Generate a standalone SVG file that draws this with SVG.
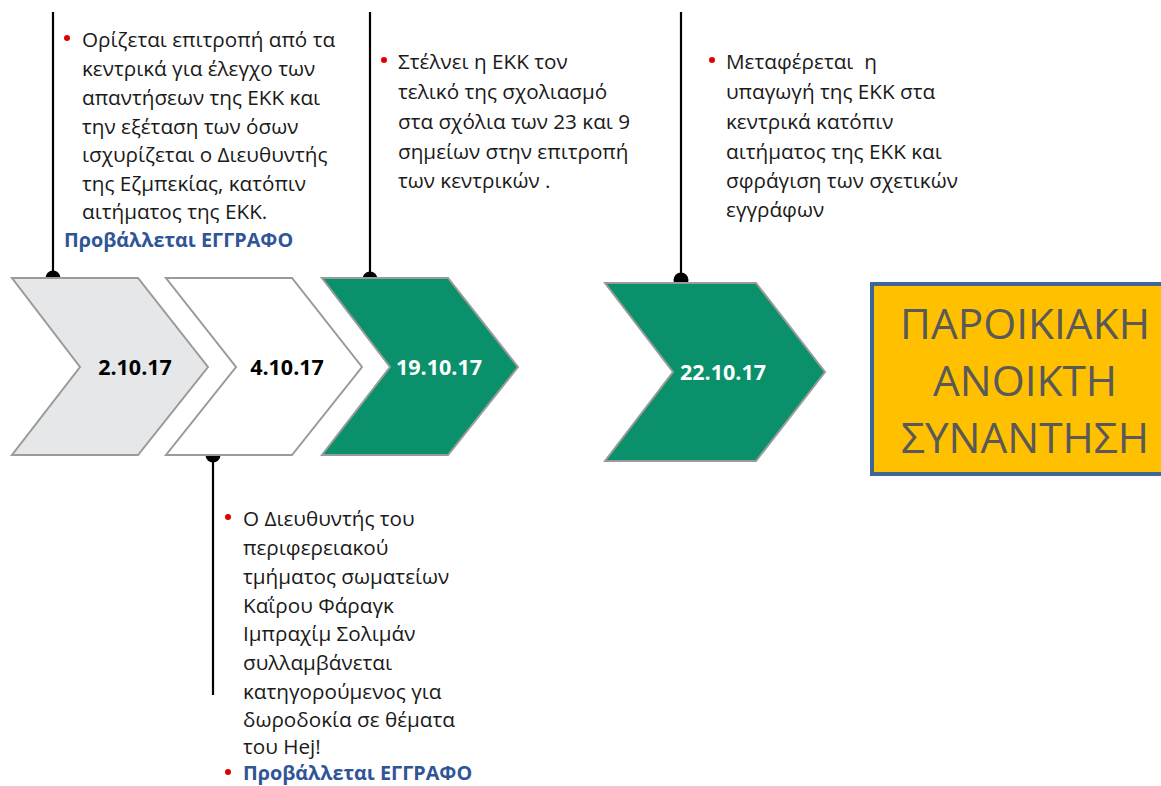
<svg xmlns="http://www.w3.org/2000/svg" width="1161" height="786" viewBox="0 0 1161 786">
<style>
.t{font-family:"Open Sans","Noto Sans",sans-serif;font-size:20.7px;fill:#1a1a1a}
.b{font-family:"Open Sans","Noto Sans",sans-serif;font-size:19.8px;font-weight:bold;fill:#2F5597}
.d{font-family:"Open Sans","Noto Sans",sans-serif;font-size:21.5px;font-weight:bold;text-anchor:middle}
.big{font-family:"Open Sans","Noto Sans",sans-serif;font-size:42.4px;fill:#595959;text-anchor:middle}
.ch{stroke:#9a9a9a;stroke-width:2}
.ln{stroke:#000;stroke-width:2.2}
.bul{fill:#e00000}
</style>
<rect width="1161" height="786" fill="#fff"/>
<g id="connectors">
<line class="ln" x1="53" y1="12" x2="53" y2="278"/>
<circle cx="53" cy="278" r="7.5"/>
<line class="ln" x1="213" y1="455" x2="213" y2="695"/>
<circle cx="213" cy="455" r="7.5"/>
<line class="ln" x1="370" y1="12" x2="370" y2="279"/>
<circle cx="370" cy="279" r="7.5"/>
<line class="ln" x1="681" y1="12" x2="681" y2="280"/>
<circle cx="681" cy="280" r="7.5"/>
</g>
<g id="chev1">
<polygon class="ch" fill="#E6E7E8" points="12,278 138,278 208,367 138,455 12,455 80,367"/>
<text class="d" x="135" y="375" fill="#000">2.10.17</text>
</g>
<g id="chev2">
<polygon class="ch" fill="#fff" points="166,278 292,278 362,367 292,455 166,455 236,367"/>
<text class="d" x="287" y="375" fill="#000">4.10.17</text>
</g>
<g id="chev3">
<polygon class="ch" fill="#0A916B" points="322,278 448,278 518,367 448,455 322,455 390,367"/>
<text class="d" x="439" y="375" fill="#fff">19.10.17</text>
</g>
<g id="chev4">
<polygon class="ch" fill="#0A916B" points="605,283 756,283 825,372 756,461 605,461 673,372"/>
<text class="d" x="723" y="380" fill="#fff">22.10.17</text>
</g>
<g id="box">
<rect x="872" y="284" width="310" height="190" fill="#FFC000" stroke="#3F6796" stroke-width="4"/>
<text class="big" x="1025" y="339">ΠΑΡΟΙΚΙΑΚΗ</text>
<text class="big" x="1025" y="396">ΑΝΟΙΚΤΗ</text>
<text class="big" x="1025" y="453">ΣΥΝΑΝΤΗΣΗ</text>
</g>
<g id="note1">
<circle class="bul" cx="67" cy="38" r="3"/>
<text class="t" x="82" y="47">Ορίζεται επιτροπή από τα</text>
<text class="t" x="82" y="76">κεντρικά για έλεγχο των</text>
<text class="t" x="82" y="105">απαντήσεων της ΕΚΚ και</text>
<text class="t" x="82" y="134">την εξέταση των όσων</text>
<text class="t" x="82" y="162">ισχυρίζεται ο Διευθυντής</text>
<text class="t" x="82" y="191">της Εζμπεκίας, κατόπιν</text>
<text class="t" x="82" y="219">αιτήματος της ΕΚΚ.</text>
<text class="b" x="64" y="247">Προβάλλεται ΕΓΓΡΑΦΟ</text>
</g>
<g id="note2">
<circle class="bul" cx="384" cy="60" r="3"/>
<text class="t" x="398" y="69">Στέλνει η ΕΚΚ τον</text>
<text class="t" x="398" y="99">τελικό της σχολιασμό</text>
<text class="t" x="398" y="129">στα σχόλια των 23 και 9</text>
<text class="t" x="398" y="159">σημείων στην επιτροπή</text>
<text class="t" x="398" y="188">των κεντρικών .</text>
</g>
<g id="note3">
<circle class="bul" cx="712" cy="60" r="3"/>
<text class="t" x="726" y="69" xml:space="preserve">Μεταφέρεται  η</text>
<text class="t" x="726" y="99">υπαγωγή της ΕΚΚ στα</text>
<text class="t" x="726" y="129">κεντρικά κατόπιν</text>
<text class="t" x="726" y="159">αιτήματος της ΕΚΚ και</text>
<text class="t" x="726" y="188">σφράγιση των σχετικών</text>
<text class="t" x="726" y="217">εγγράφων</text>
</g>
<g id="note4">
<circle class="bul" cx="228" cy="517" r="3"/>
<text class="t" x="243" y="526">Ο Διευθυντής του</text>
<text class="t" x="243" y="555">περιφερειακού</text>
<text class="t" x="243" y="584">τμήματος σωματείων</text>
<text class="t" x="243" y="613">Καΐρου Φάραγκ</text>
<text class="t" x="243" y="641">Ιμπραχίμ Σολιμάν</text>
<text class="t" x="243" y="670">συλλαμβάνεται</text>
<text class="t" x="243" y="699">κατηγορούμενος για</text>
<text class="t" x="243" y="727">δωροδοκία σε θέματα</text>
<text class="t" x="243" y="754">του Hej!</text>
<circle class="bul" cx="228" cy="772" r="3"/>
<text class="b" x="243" y="780">Προβάλλεται ΕΓΓΡΑΦΟ</text>
</g>
</svg>
